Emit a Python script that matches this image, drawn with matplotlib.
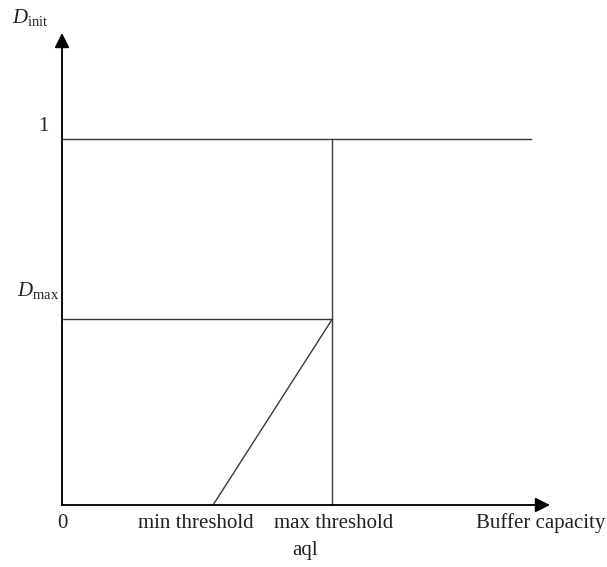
import matplotlib.pyplot as plt

plt.rcParams['font.family'] = ['Liberation Serif', 'DejaVu Serif']
plt.rcParams['mathtext.fontset'] = 'custom'
plt.rcParams['mathtext.rm'] = 'Liberation Serif'
plt.rcParams['mathtext.it'] = 'Liberation Serif:italic'

# queue model: buffer occupancy (x) against drop probability (y)
min_threshold = 0.322
max_threshold = 0.576
buffer_capacity = 1.0
d_one = 1.0
d_max = 0.508
x_end = 1.04
y_end = 1.29

text_col = '#231f20'
line_col = '#3a3a3a'
axis_col = '#5a5a5a'

fig = plt.figure(figsize=(6.07, 5.67), dpi=100)
ax = fig.add_axes([62 / 607, 62 / 567, 488 / 607, 472 / 567])
ax.set_xlim(0, x_end)
ax.set_ylim(0, y_end)
ax.axis('off')

# axes with arrow heads
arrow = dict(arrowstyle='-|>,head_length=0.9,head_width=0.45', color=axis_col,
             lw=1.2, shrinkA=0, shrinkB=0, fc='black', ec='black')
ax.annotate('', xy=(x_end, 0), xytext=(0, 0), arrowprops=arrow, annotation_clip=False)
ax.annotate('', xy=(0, y_end), xytext=(0, 0), arrowprops=arrow, annotation_clip=False)
ax.plot([0, 0], [0, y_end * 0.97], color=axis_col, lw=1.3, clip_on=False)
ax.plot([0, x_end * 0.97], [0, 0], color=axis_col, lw=1.3, clip_on=False)

ax.plot([0, buffer_capacity], [d_one, d_one], color=line_col, lw=1.0, clip_on=False)
ax.plot([0, max_threshold], [d_max, d_max], color=line_col, lw=1.0, clip_on=False)
ax.plot([max_threshold, max_threshold], [0, d_one], color=line_col, lw=1.0, clip_on=False)
ax.plot([min_threshold, max_threshold], [0, d_max], color=line_col, lw=1.0, clip_on=False)

fs = 15
ax.text(-0.068, 1.333, r'$D_{\rm init}$', fontsize=fs, color=text_col, ha='center', va='center')
ax.text(-0.04, d_one + 0.035, '1', fontsize=fs, color=text_col, ha='center', va='center')
ax.text(-0.05, d_max + 0.079, r'$D_{\rm max}$', fontsize=fs, color=text_col, ha='center', va='center')
ax.text(0, -0.05, '0', fontsize=fs, color=text_col, ha='center', va='center')
ax.text(0.286, -0.05, 'min threshold', fontsize=fs, color=text_col, ha='center', va='center')
ax.text(0.578, -0.05, 'max threshold', fontsize=fs, color=text_col, ha='center', va='center')
ax.text(0.518, -0.123, 'aql', fontsize=fs, color=text_col, ha='center', va='center')
ax.text(1.02, -0.05, 'Buffer capacity', fontsize=fs, color=text_col, ha='center', va='center')

fig.savefig('out.png', dpi=100)
